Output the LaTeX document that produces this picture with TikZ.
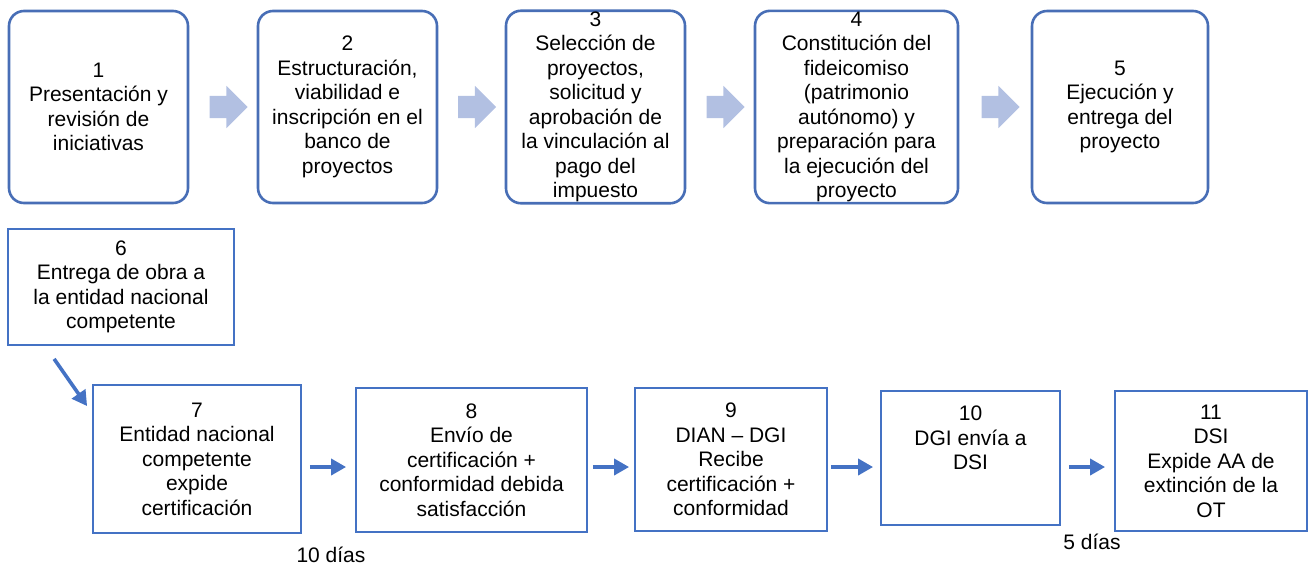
\documentclass[tikz,border=0pt]{standalone}
\usepackage{fontspec}
\setmainfont{Liberation Sans}
\usepackage{tikz}
\usetikzlibrary{arrows.meta}
\usetikzlibrary{shapes.arrows}
\usetikzlibrary{calc}

\definecolor{boxblue}{RGB}{68,114,196}
\definecolor{edgeblue}{RGB}{72,110,182}
\definecolor{paleblue}{RGB}{178,192,226}

\tikzset{
  topbox/.style={draw=edgeblue, line width=2.6pt, rounded corners=15pt,
    align=center, minimum height=192pt, inner sep=1pt},
  lowbox/.style={draw=boxblue, line width=1.8pt, align=center, inner sep=1pt},
  blockarrow/.style={single arrow, fill=paleblue, draw=none, inner sep=11pt,
    minimum height=38pt, minimum width=42pt, single arrow head extend=10pt},
  flow/.style={draw=boxblue, line width=3.6pt,
    -{Triangle[length=15pt, width=16pt]}},
  days/.style={inner sep=0pt}
}

\begin{document}
\begin{tikzpicture}[x=1pt, y=-1pt, font=\fontsize{21}{24.5}\selectfont]

  \useasboundingbox (0,0) rectangle (1311,566);

  % upper row
  \draw (98.5,107) node[topbox, minimum width=179pt, name=b1]
    {1\\Presentación y\\revisión de\\iniciativas};
  \draw (347.5,107) node[topbox, minimum width=179pt, name=b2]
    {2\\Estructuración,\\viabilidad e\\inscripción en el\\banco de\\proyectos};
  \draw (595.5,107) node[topbox, minimum width=179pt, name=b3]
    {3\\Selección de\\proyectos,\\solicitud y\\aprobación de\\la vinculación al\\pago del\\impuesto};
  \draw (856.5,107) node[topbox, minimum width=203pt, name=b4]
    {4\\Constitución del\\fideicomiso\\(patrimonio\\autónomo) y\\preparación para\\la ejecución del\\proyecto};
  \draw (1120,107) node[topbox, minimum width=176pt, name=b5]
    {5\\Ejecución y\\entrega del\\proyecto};

  \foreach \a/\b in {b1/b2, b2/b3, b3/b4, b4/b5}
    \draw ($(\a.east)!0.5!(\b.west)$) node[blockarrow, name=\a\b] {};

  % lower row
  \draw (121,287) node[lowbox, minimum width=226pt, minimum height=116pt, name=b6]
    {6\\Entrega de obra a\\la entidad nacional\\competente};
  \draw (197,459) node[lowbox, minimum width=208pt, minimum height=148pt, name=b7]
    {7\\Entidad nacional\\competente\\expide\\certificación};
  \draw (471.5,460) node[lowbox, minimum width=231pt, minimum height=144pt, name=b8]
    {8\\Envío de\\certificación +\\conformidad debida\\satisfacción};
  \draw (731,459.5) node[lowbox, minimum width=192pt, minimum height=143pt, name=b9]
    {9\\DIAN -- DGI\\Recibe\\certificación +\\conformidad};
  \draw (970.5,458) node[lowbox, minimum width=179pt, minimum height=134pt, name=b10]
    {10\\DGI envía a\\DSI\\[16pt]};
  \draw (1211,461) node[lowbox, minimum width=192pt, minimum height=140pt, name=b11]
    {11\\DSI\\Expide AA de\\extinción de la\\OT};

  \coordinate (s6) at ([xshift=47pt, yshift=-13pt]b6.south west);
  \coordinate (e7) at ([xshift=-5pt, yshift=-22pt]b7.north west);
  \draw[flow] (s6) -- (e7);

  \foreach \a/\b/\s/\e in {b7/b8/8/9, b8/b9/5/5, b9/b10/3/7, b10/b11/8/9}
    \draw[flow, shorten <=\s pt, shorten >=\e pt]
      (\a.east |- 0,467) -- (\b.west |- 0,467);

  \draw (331,555) node[days, name=d10] {10 días};
  \draw (1092,542) node[days, name=d5] {5 días};

\end{tikzpicture}
\end{document}
